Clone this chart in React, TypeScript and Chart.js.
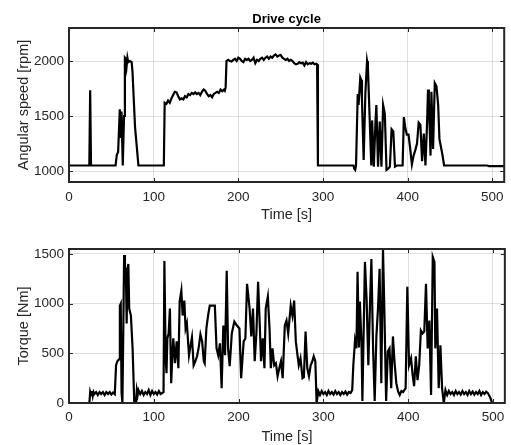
import React, { useEffect, useRef } from "react";
import { Chart, registerables } from "chart.js";

Chart.register(...registerables);

// ---------- data ----------
const chartTitle = "Drive cycle";
const xTitle = "Time [s]";
const speedTitle = "Angular speed [rpm]";
const torqueTitle = "Torque [Nm]";

const xMin = 0;
const xMax = 514;
const xTickValues = [0, 100, 200, 300, 400, 500];
const speedMin = 900;
const speedMax = 2300;
const speedTickValues = [1000, 1500, 2000];
const torqueMin = 0;
const torqueMax = 1550;
const torqueTickValues = [0, 500, 1000, 1500];

const speedTime = [
  0, 24, 25, 26, 55, 56.5, 58, 60, 61, 62, 63.5, 65, 66, 67, 68, 69, 70, 72, 74, 75, 78, 82,
  112, 113, 115, 117, 119, 121, 123, 125, 127, 129, 131, 133, 135, 137, 139, 141, 143, 145, 147,
  149, 151, 153, 155, 157, 159, 161, 163, 165, 167, 169, 171, 173, 175, 177, 179, 181, 183, 184,
  185, 186, 188, 190, 192, 194, 196, 198, 200, 202, 204, 206, 208, 210, 212, 214, 216, 218, 220,
  222, 224, 226, 228, 230, 232, 234, 236, 238, 240, 242, 244, 246, 248, 250, 252, 254, 256, 258,
  260, 262, 264, 266, 268, 270, 272, 274, 276, 278, 280, 282, 284, 286, 288, 290, 292, 293, 294,
  336, 337, 338, 339, 341, 342, 344, 345, 346, 348, 350, 352, 353, 355, 357, 358, 360, 362, 363,
  365, 367, 369, 371, 373, 375, 377, 379, 381, 383, 385, 387, 394, 395.5, 397, 399, 401, 403, 405,
  407, 409, 411, 413, 415, 417, 419, 421, 423, 424, 425, 427, 428, 430, 432, 434, 436, 437.5, 439,
  441, 443, 494, 496, 514,
];
const speedRpm = [
  1050, 1050, 1735, 1050, 1050, 1150, 1170, 1560, 1300, 1540, 1050, 1500, 2030, 2020, 1950, 2030,
  1990, 2000, 1990, 1900, 1400, 1050,
  1050, 1620, 1610, 1640, 1620, 1660, 1690, 1720, 1715, 1680, 1650, 1660, 1650, 1680, 1670, 1700,
  1690, 1710, 1700, 1715, 1700, 1710, 1690, 1720, 1740, 1730, 1700, 1680, 1690, 1670, 1700, 1710,
  1720, 1710, 1740, 1725, 1740, 1730, 1760, 2000, 2010, 2000, 1995, 2010, 2020, 2000, 2030, 2020,
  2000, 1990, 2020, 2010, 2020, 2000, 2010, 2030, 1980, 2010, 2000, 2020, 2030, 2010, 2030, 2040,
  2020, 2040, 2030, 2050, 2060, 2040, 2050, 2055, 2030, 2020, 2010, 2020, 2000, 2010, 2000, 1980,
  1970, 1975, 1990, 1980, 1985, 1960, 1990, 1970, 1980, 1975, 1985, 1970, 1975, 1970, 1050,
  1050, 1020, 1010, 1050, 1700, 1600, 1850, 1830, 1650, 1100, 1700, 2000, 1950, 1500, 1050, 1460,
  1040, 1450, 1600, 1040, 1450, 1040, 1600, 1520, 1010, 1020, 1040, 1380, 1360, 1040, 1050, 1050,
  1490, 1400, 1330, 1330, 1200, 1060, 1140, 1190, 1250, 1440, 1420, 1090, 1340, 1050, 1460, 1740,
  1640, 1140, 1720, 1200, 1800, 1770, 1600, 1290, 1230, 1150, 1050, 1050, 1045, 1045,
];

const torqueTime = [
  0, 24, 25, 26, 27, 28, 29, 30, 32, 34, 36, 38, 40, 42, 44, 46, 48, 50, 52, 54, 55.5, 57, 59, 60,
  61, 62, 63, 64, 65, 66, 67, 68, 69, 70, 71, 73, 75, 77, 79, 80, 81, 82, 84, 86, 88, 90, 92, 94,
  96, 98, 100, 102, 104, 106, 108, 110, 111.5, 112.5, 114, 115, 116, 117.5, 119, 120.5, 122, 123,
  125, 127, 129, 130.5, 132.5, 134, 136, 137.5, 139, 141.5, 143, 145, 147, 149, 151, 153, 155, 157,
  159, 160, 162, 164, 166, 168, 170, 172, 174, 176, 178, 180, 182, 184, 186, 187.6, 189.5, 192,
  195, 198, 201, 203, 206, 208, 210, 213, 215, 217, 219, 221, 223, 225, 226.5, 228.5, 230.5, 232,
  234.5, 236.5, 238, 240, 242, 244, 246, 248, 250, 252, 254.5, 256.5, 258.5, 261.5, 263.5, 265.5,
  267.5, 269.5, 271, 273, 275.4, 277, 279, 281, 283, 285, 287, 288.6, 290.5, 292, 294, 296, 298,
  300, 302, 304, 306, 308, 310, 312, 314, 316, 318, 320, 322, 324, 326, 328, 330, 332, 334, 335.3,
  337.3, 339, 340.3, 342, 343, 345, 346, 349, 351, 353, 355, 356.6, 358.6, 360.5, 362.5, 364.4,
  366.3, 368.3, 370.3, 372, 374, 376, 378, 380, 382, 384, 386, 388, 390, 392, 394, 397, 399, 401,
  403.4, 405.3, 407, 409, 411, 413, 415, 417, 419, 421, 423, 425, 427, 429, 431, 432, 434, 436,
  438, 440, 442, 444, 446, 448, 450, 452, 454, 456, 458, 460, 462, 464, 466, 468, 470, 472, 474,
  476, 478, 480, 482, 484, 486, 488, 490, 492, 494, 497, 499, 514,
];
const torqueNm = [
  0, 0, 110, 80, 120, 70, 110, 90, 110, 80, 110, 90, 110, 80, 110, 90, 110, 85, 105, 90, 380, 420,
  440, 980, 1000, 100, 0, 700, 1490, 1200, 1360, 800, 1350, 1400, 950, 880, 550, 0, 0, 130, 80,
  130, 90, 120, 80, 110, 90, 130, 80, 120, 90, 110, 85, 120, 90, 100, 110, 1430, 450, 300, 650,
  700, 950, 200, 500, 650, 400, 620, 350, 1020, 1130, 880, 1030, 750, 800, 480, 560, 660, 380,
  420, 470, 560, 690, 620, 420, 400, 750, 880, 980, 980, 980, 980, 550, 480, 600, 150, 780, 480,
  1330, 550, 370, 700, 820, 780, 750, 250, 620, 650, 1200, 950, 670, 950, 420, 700, 1220, 780,
  420, 650, 350, 950, 1070, 750, 350, 550, 380, 400, 270, 350, 420, 250, 780, 830, 700, 980, 880,
  1030, 620, 480, 380, 450, 250, 260, 720, 350, 270, 380, 420, 470, 420, 0, 120, 80, 120, 90, 110,
  80, 120, 90, 110, 85, 120, 90, 110, 80, 110, 90, 115, 85, 110, 100, 130, 380, 630, 550, 1320,
  560, 1020, 600, 20, 1420, 1040, 380, 1000, 1450, 550, 20, 670, 950, 1350, 200, 1550, 900, 20,
  520, 550, 150, 670, 400, 200, 120, 80, 120, 110, 150, 1170, 380, 450, 280, 170, 470, 230, 380,
  730, 700, 720, 1200, 550, 830, 80, 1470, 1420, 550, 950, 150, 580, 150, 0, 130, 80, 120, 90,
  110, 80, 120, 90, 110, 85, 120, 90, 110, 80, 120, 90, 115, 85, 110, 90, 120, 80, 110, 90, 115,
  100, 50, 0, 0,
];

// ---------- styling ----------
const FONT = "'Liberation Sans', Arial, Helvetica, sans-serif";
const TEXT = "#262626";
const GRID = "rgba(38,38,38,0.15)";

const boxPlugin = {
  id: "matlabBox",
  afterDraw(chart: any) {
    const { ctx, chartArea: a, scales } = chart;
    const tl = 4;
    ctx.save();
    ctx.strokeStyle = TEXT;
    ctx.lineWidth = 1;
    ctx.beginPath();
    scales.x.ticks.forEach((t: any) => {
      const px = Math.round(scales.x.getPixelForValue(t.value)) + 0.5;
      ctx.moveTo(px, a.bottom);
      ctx.lineTo(px, a.bottom - tl);
      ctx.moveTo(px, a.top);
      ctx.lineTo(px, a.top + tl);
    });
    scales.y.ticks.forEach((t: any) => {
      const py = Math.round(scales.y.getPixelForValue(t.value)) + 0.5;
      ctx.moveTo(a.left, py);
      ctx.lineTo(a.left + tl, py);
      ctx.moveTo(a.right, py);
      ctx.lineTo(a.right - tl, py);
    });
    ctx.stroke();
    ctx.lineWidth = 2;
    ctx.strokeRect(a.left, a.top, a.right - a.left, a.bottom - a.top);
    ctx.restore();
  },
};

function makeConfig(
  xs: number[],
  ys: number[],
  yMin: number,
  yMax: number,
  yTicks: number[],
  yTitle: string,
  withTitle: boolean,
  xTitlePad: number,
  xTickPad: number
): any {
  const points = xs.map((x, i) => ({ x, y: ys[i] }));
  return {
    type: "line",
    data: {
      datasets: [
        {
          data: points,
          borderColor: "#000000",
          borderWidth: 2.2,
          pointRadius: 0,
          tension: 0,
          fill: false,
        },
      ],
    },
    options: {
      responsive: false,
      animation: false,
      devicePixelRatio: 1,
      layout: { padding: { left: 0, right: 1, top: withTitle ? 0 : 25, bottom: 0 } },
      plugins: {
        legend: { display: false },
        tooltip: { enabled: false },
        title: {
          display: withTitle,
          text: chartTitle,
          fullSize: false,
          color: "#000000",
          font: { family: FONT, size: 13, weight: "bold" },
          padding: { top: 11.2, bottom: 1.2 },
        },
      },
      scales: {
        x: {
          type: "linear",
          min: xMin,
          max: xMax,
          afterFit: (s: any) => {
            s.height = 42;
          },
          afterBuildTicks: (s: any) => {
            s.ticks = xTickValues.map((v) => ({ value: v }));
          },
          ticks: {
            color: TEXT,
            font: { family: FONT, size: 13.5 },
            padding: xTickPad,
            maxRotation: 0,
            autoSkip: false,
            callback: (v: any) => String(v),
          },
          grid: { color: GRID, lineWidth: 1, drawTicks: false },
          border: { display: false },
          title: {
            display: true,
            text: xTitle,
            color: TEXT,
            font: { family: FONT, size: 14.5 },
            padding: { top: 0, bottom: xTitlePad },
          },
        },
        y: {
          type: "linear",
          min: yMin,
          max: yMax,
          afterFit: (s: any) => {
            s.width = 69;
          },
          afterBuildTicks: (s: any) => {
            s.ticks = yTicks.map((v) => ({ value: v }));
          },
          ticks: {
            color: TEXT,
            font: { family: FONT, size: 13.5 },
            padding: 5,
            autoSkip: false,
            callback: (v: any) => String(v),
          },
          grid: { color: GRID, lineWidth: 1, drawTicks: false },
          border: { display: false },
          title: {
            display: true,
            text: yTitle,
            color: TEXT,
            font: { family: FONT, size: 14.5 },
            padding: { top: 15.3, bottom: 0 },
          },
        },
      },
    },
    plugins: [boxPlugin],
  };
}

export default function App() {
  const topRef = useRef<HTMLCanvasElement>(null);
  const botRef = useRef<HTMLCanvasElement>(null);

  useEffect(() => {
    const c1 = new Chart(
      topRef.current as HTMLCanvasElement,
      makeConfig(speedTime, speedRpm, speedMin, speedMax, speedTickValues, speedTitle, true, 0.3, 7.2)
    );
    const c2 = new Chart(
      botRef.current as HTMLCanvasElement,
      makeConfig(torqueTime, torqueNm, torqueMin, torqueMax, torqueTickValues, torqueTitle, false, -0.5, 6.6)
    );
    return () => {
      c1.destroy();
      c2.destroy();
    };
  }, []);

  return (
    <div
      style={{
        position: "absolute",
        left: 0,
        top: 0,
        width: 511,
        height: 445,
        background: "#ffffff",
      }}
    >
      <canvas
        ref={topRef}
        width={511}
        height={224}
        style={{ position: "absolute", left: 0, top: 0, width: 511, height: 224 }}
      />
      <canvas
        ref={botRef}
        width={511}
        height={221}
        style={{ position: "absolute", left: 0, top: 224, width: 511, height: 221 }}
      />
    </div>
  );
}
